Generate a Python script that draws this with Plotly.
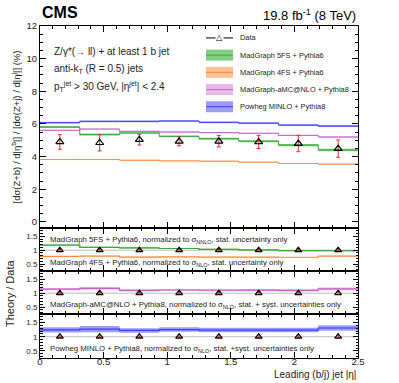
import plotly.graph_objects as go

# bin edges / centres in leading jet |eta|
edges = [0, 0.3125, 0.625, 0.9375, 1.25, 1.5625, 1.875, 2.1875, 2.5]
centers = [0.156, 0.469, 0.781, 1.094, 1.406, 1.719, 2.031, 2.344]

# measured ratio (%)
data = [4.90, 4.85, 5.04, 4.94, 4.94, 4.90, 4.80, 4.49]
data_err = [0.45, 0.50, 0.33, 0.28, 0.35, 0.40, 0.50, 0.53]
data_stat = [0.12, 0.13, 0.12, 0.12, 0.13, 0.14, 0.15, 0.17]

# predictions (%) and their band half-widths
mg5fs = [5.81, 5.35, 5.45, 5.24, 5.10, 4.94, 4.71, 4.41]
mg5fs_err = [0.06, 0.06, 0.05, 0.05, 0.06, 0.06, 0.07, 0.08]
mg4fs = [3.82, 3.82, 3.78, 3.74, 3.72, 3.66, 3.58, 3.54]
mg4fs_err = [0.03, 0.03, 0.03, 0.03, 0.03, 0.03, 0.03, 0.03]
amcnlo = [5.61, 5.69, 5.55, 5.51, 5.47, 5.43, 5.30, 5.20]
amcnlo_err = [0.04, 0.04, 0.04, 0.04, 0.04, 0.04, 0.04, 0.05]
powheg = [6.08, 6.16, 6.16, 6.18, 6.10, 6.05, 5.93, 5.87]
powheg_err = [0.05, 0.05, 0.05, 0.05, 0.05, 0.05, 0.06, 0.06]

# relative uncertainties shown in the ratio panels
r5fs_unc = [0.02, 0.02, 0.02, 0.02, 0.02, 0.02, 0.02, 0.02]
r4fs_unc = [0.01, 0.01, 0.01, 0.01, 0.01, 0.01, 0.01, 0.01]
ramc_unc = [0.04, 0.05, 0.04, 0.04, 0.04, 0.04, 0.04, 0.05]
rpow_unc = [0.09, 0.11, 0.08, 0.08, 0.08, 0.08, 0.08, 0.10]

models = [
    ("MadGraph 5FS + Pythia6", mg5fs, mg5fs_err, r5fs_unc, "#3aa83a", "rgba(60,180,60,0.65)", "y2"),
    ("MadGraph 4FS + Pythia6", mg4fs, mg4fs_err, r4fs_unc, "#ff8a3d", "rgba(255,150,80,0.6)", "y2"),
    ("MadGraph-aMC@NLO + Pythia8", amcnlo, amcnlo_err, ramc_unc, "#cc5fcc", "rgba(210,130,210,0.55)", "y3"),
    ("Powheg MINLO + Pythia8", powheg, powheg_err, rpow_unc, "#3c3cf0", "rgba(90,90,255,0.6)", "y4"),
]

FONT = "Liberation Sans, Arial, sans-serif"


def step(vals):
    return list(vals) + [vals[-1]]


fig = go.Figure()

for name, vals, err, runc, lc, fc, yr in models:
    xr = "x" + yr[1:]
    lo = [v - e for v, e in zip(vals, err)]
    hi = [v + e for v, e in zip(vals, err)]
    fig.add_trace(go.Scatter(x=edges, y=step(lo), mode="lines", line=dict(width=0, shape="hv"),
                             showlegend=False, hoverinfo="skip"))
    fig.add_trace(go.Scatter(x=edges, y=step(hi), mode="lines", line=dict(width=0, shape="hv"),
                             fill="tonexty", fillcolor=fc, showlegend=False, hoverinfo="skip"))
    fig.add_trace(go.Scatter(x=edges, y=step(vals), mode="lines", name=name,
                             line=dict(color=lc, width=1, shape="hv"), showlegend=False))

    # ratio panel
    ratio = [v / d for v, d in zip(vals, data)]
    rlo = [r - u for r, u in zip(ratio, runc)]
    rhi = [r + u for r, u in zip(ratio, runc)]
    fig.add_trace(go.Scatter(x=edges, y=step(rlo), xaxis=xr, yaxis=yr, mode="lines",
                             line=dict(width=0, shape="hv"), showlegend=False, hoverinfo="skip"))
    fig.add_trace(go.Scatter(x=edges, y=step(rhi), xaxis=xr, yaxis=yr, mode="lines",
                             line=dict(width=0, shape="hv"), fill="tonexty", fillcolor=fc,
                             showlegend=False, hoverinfo="skip"))
    fig.add_trace(go.Scatter(x=edges, y=step(ratio), xaxis=xr, yaxis=yr, mode="lines",
                             line=dict(color=lc, width=1.2, shape="hv"), showlegend=False))

# data points, main panel
fig.add_trace(go.Scatter(x=centers, y=data, mode="markers", name="Data", showlegend=False,
                         error_y=dict(type="data", array=data_err, color="#e03030", thickness=1, width=2),
                         marker=dict(symbol="triangle-up-open", size=7, color="black",
                                     line=dict(width=1.2))))

# data points, ratio panels
for yr in ["y2", "y3", "y4"]:
    fig.add_trace(go.Scatter(x=centers, y=[1] * len(centers), xaxis="x" + yr[1:], yaxis=yr,
                             mode="markers", showlegend=False,
                             error_y=dict(type="data", array=[s / d for s, d in zip(data_stat, data)],
                                          color="#e03030", thickness=1, width=1.5),
                             marker=dict(symbol="triangle-up-open", size=6, color="black",
                                         line=dict(width=1.2))))

axis_common = dict(showline=True, linecolor="black", linewidth=1, mirror="ticks",
                   ticks="inside", ticklen=6, tickcolor="black", showgrid=False, zeroline=False,
                   automargin=False, tickfont=dict(size=9.5, family=FONT, color="#222"))

xa = dict(axis_common, range=[0, 2.5], dtick=0.5, minor=dict(ticks="inside", ticklen=3, dtick=0.1,
                                                               tickcolor="black"))
fig.update_layout(
    xaxis=dict(xa, anchor="y", showticklabels=False),
    xaxis2=dict(xa, anchor="y2", matches="x", showticklabels=False),
    xaxis3=dict(xa, anchor="y3", matches="x", showticklabels=False),
    xaxis4=dict(xa, anchor="y4", matches="x", tickvals=[0, 0.5, 1, 1.5, 2, 2.5],
                ticktext=["0", "0.5", "1", "1.5", "2", "2.5"], ticklabelstandoff=-5),
    yaxis=dict(axis_common, domain=[0.3916, 1], range=[-0.37, 12], dtick=2,
               minor=dict(ticks="inside", ticklen=3, dtick=0.5, tickcolor="black"),
               title=dict(text="[dσ(Z+b) / d|η<sup>b</sup>|] / [dσ(Z+j) / d|η<sup>j</sup>|] (%)",
                          font=dict(size=9.5, family=FONT, color="#222"), standoff=4)),
)
ry = dict(axis_common, range=[0.25, 1.8], tickvals=[0.5, 1, 1.5], ticktext=["0.5", "1", "1.5"],
          tickfont=dict(size=8, family=FONT, color="#222"), ticklen=5,
          minor=dict(ticks="inside", ticklen=2.5, dtick=0.1, tickcolor="black"))
fig.update_layout(
    yaxis2=dict(ry, domain=[0.262, 0.3916], anchor="x2"),
    yaxis3=dict(ry, domain=[0.1325, 0.262], anchor="x3"),
    yaxis4=dict(ry, domain=[0.0, 0.1325], anchor="x4"),
)

# reference line at unity in ratio panels
for i in (2, 3, 4):
    fig.add_shape(type="line", x0=0, x1=2.5, y0=1, y1=1, xref=f"x{i}", yref=f"y{i}",
                  line=dict(color="#bbbbbb", width=1), layer="below")

ann = []
def txt(x, y, s, size, **kw):
    d = dict(x=x, y=y, xref="paper", yref="paper", text=s, showarrow=False,
             font=dict(size=size, family=kw.pop("family", FONT), color=kw.pop("color", "#222")))
    d.update(kw)
    ann.append(d)

# hand-drawn legend (ROOT style: box swatch with central line)
leg_x0, leg_x1, leg_tx = 0.522, 0.607, 0.623
leg_y0, leg_dy, leg_h = 0.964, 0.0518, 0.0166
fig.add_shape(type="line", xref="paper", yref="paper", x0=leg_x0, x1=leg_x1, y0=leg_y0, y1=leg_y0,
              line=dict(color="black", width=1))
txt((leg_x0 + leg_x1) / 2, leg_y0, "△", 8, family="DejaVu Sans", color="black",
    xanchor="center", yanchor="middle", bgcolor="white", borderpad=0)
txt(leg_tx, leg_y0, "Data", 7.4, xanchor="left", yanchor="middle")
for k, (name, vals, err, runc, lc, fc, yr) in enumerate(models):
    yc = leg_y0 - (k + 1) * leg_dy
    fig.add_shape(type="rect", xref="paper", yref="paper", x0=leg_x0, x1=leg_x1,
                  y0=yc - leg_h, y1=yc + leg_h, fillcolor=fc, line=dict(width=0))
    fig.add_shape(type="line", xref="paper", yref="paper", x0=leg_x0, x1=leg_x1, y0=yc, y1=yc,
                  line=dict(color=lc, width=1))
    txt(leg_tx, yc, name, 7.4, xanchor="left", yanchor="middle")

txt(0.0, 1.0407, "<b>CMS</b>", 16, xanchor="left", yanchor="middle", color="black")
txt(1.0, 1.033, "19.8 fb<sup>-1</sup> (8 TeV)", 13, xanchor="right", yanchor="middle", color="black")
txt(0.038, 0.922, "Z/γ*(→ ll) + at least 1 b jet", 10, xanchor="left", yanchor="middle")
txt(0.038, 0.870, "anti-k<sub>T</sub> (R = 0.5) jets", 10, xanchor="left", yanchor="middle")
txt(0.038, 0.818, "p<sub>T</sub><sup>jet</sup> > 30 GeV, |η<sup>jet</sup>| < 2.4", 10,
    xanchor="left", yanchor="middle")
txt(0.025, 0.355, "MadGraph 5FS + Pythia6, normalized to σ<sub>NNLO</sub>, stat. uncertainty only", 7.8,
    xanchor="left", yanchor="middle")
txt(0.025, 0.287, "MadGraph 4FS + Pythia6, normalized to σ<sub>NLO</sub>, stat. uncertainty only", 7.8,
    xanchor="left", yanchor="middle")
txt(0.025, 0.160, "MadGraph-aMC@NLO + Pythia8, normalized to σ<sub>NLO</sub>, stat. + syst. uncertainties only", 7.8,
    xanchor="left", yanchor="middle")
txt(0.025, 0.027, "Powheg MINLO + Pythia8, normalized to σ<sub>NLO</sub>, stat. +syst. uncertainties only", 7.8,
    xanchor="left", yanchor="middle")
txt(1.0, -0.051, "Leading (b/j) jet |η|", 10, xanchor="right", yanchor="middle")
txt(-0.094, 0.196, "Theory / Data", 11, xanchor="center", yanchor="middle", textangle=-90)

fig.update_layout(
    annotations=ann,
    width=399, height=383,
    margin=dict(l=40, r=41, t=26, b=25, autoexpand=False),
    paper_bgcolor="white", plot_bgcolor="white",
    font=dict(family=FONT, size=9, color="#222"),
    showlegend=False,
)

# drop the default 8px page margin so the figure sits at the window origin
fig.write_html("out.html", config={"displayModeBar": False},
               post_script="document.body.style.margin='0px';")
